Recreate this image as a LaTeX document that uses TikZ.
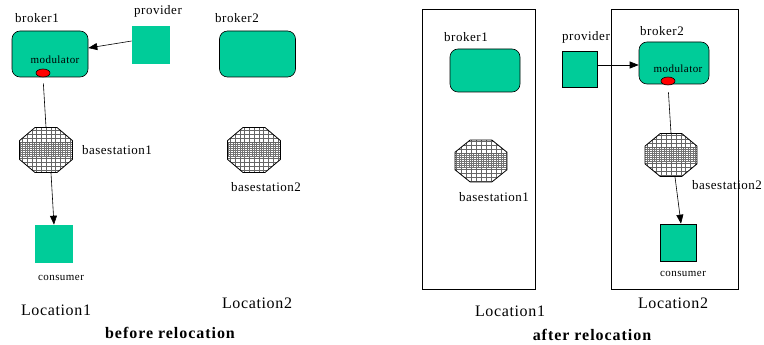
\documentclass[tikz,border=0pt]{standalone}
\usepackage{fontspec}
\setmainfont{Liberation Serif}
\newfontfamily\spaced[LetterSpace=4]{Liberation Serif}
\newfontfamily\wide[LetterSpace=6]{Liberation Serif}
\usepackage{tikz}
\usetikzlibrary{arrows, arrows.meta, positioning, shapes}
\definecolor{brokergreen}{RGB}{0,204,153}

\begin{document}
\begin{tikzpicture}[
    x=1pt, y=-1pt,
    line width=0.6pt,
    broker/.style={draw, fill=brokergreen, rounded corners=8pt,
        minimum width=76pt, minimum height=46pt, inner sep=0pt},
    party/.style={fill=brokergreen, minimum size=38pt, inner sep=0pt},
    modulator/.style={ellipse, draw, fill=red, minimum width=14pt,
        minimum height=8pt, inner sep=0pt},
    station/.style={regular polygon, regular polygon sides=8,
        draw, line width=0.8pt, inner sep=0pt,
        minimum size=48.7pt, xscale=1.18,
        path picture={
            \draw[line width=0.15pt, black!60] (path picture bounding box.south west)
                grid[step=4pt] (path picture bounding box.north east);
            \draw[line width=0.15pt, black!55] ([yshift=-7pt]path picture bounding box.west)
                grid[step=2pt] ([yshift=7pt]path picture bounding box.east);
        }},
    lbl/.style={font=\spaced\fontsize{13}{15}\selectfont, inner sep=0pt},
    small/.style={font=\spaced\fontsize{11}{13}\selectfont, inner sep=0pt},
    loc/.style={font=\spaced\fontsize{16}{18}\selectfont, inner sep=0pt},
    caption/.style={font=\wide\bfseries\fontsize{16}{18}\selectfont, inner sep=0pt},
    arr/.style={-{Triangle[length=9pt,width=7pt]}},
]
\useasboundingbox (0,0) rectangle (764,345);

\node[broker] (brk1) at (50,54) {};
\node[lbl] (brk1lbl) at (37,18) {broker1};
\node[small] (mod1txt) at (55,60) {modulator};
\node[modulator] (mod1) at (43,73) {};
\node[party] (prov1) at (151,45) {};
\node[lbl] (prov1lbl) at (158,11) {provider};
\node[broker] (brk2) at (257.5,54) {};
\node[lbl] (brk2lbl) at (237,18) {broker2};
\node[station] (bs1) at (46,150) {};
\node[lbl] (bs1lbl) at (117,150) {basestation1};
\node[station] (bs2) at (254,150) {};
\node[lbl] (bs2lbl) at (266,187) {basestation2};
\node[party] (cons1) at (54,244) {};
\node[small] (cons1lbl) at (61,278) {consumer};
\node[loc] (loc1a) at (56,310) {Location1};
\node[loc] (loc2a) at (257,303) {Location2};
\node[caption] (before) at (170,333) {before relocation};

\node[draw, minimum width=113pt, minimum height=280pt, inner sep=0pt] (box1) at (478.5,149) {};
\node[draw, minimum width=127pt, minimum height=280pt, inner sep=0pt] (box2) at (674.5,149) {};
\node[loc] (loc1b) at (510,311) {Location1};
\node[loc] (loc2b) at (673,303) {Location2};
\node[caption] (after) at (592,335) {after relocation};
\node[broker, minimum width=70pt, minimum height=43pt] (brk1b) at (485,70.5) {};
\node[lbl] (brk1blbl) at (466,37) {broker1};
\node[station, minimum size=45.5pt, xscale=1.24/1.18] (bs1b) at (481,161) {};
\node[lbl] (bs1blbl) at (494,197) {basestation1};
\node[party, draw, minimum width=35pt, minimum height=36pt] (prov2) at (579.5,69) {};
\node[lbl] (prov2lbl) at (586,37) {provider};
\node[broker, minimum width=70pt, minimum height=42pt] (brk2b) at (674,63) {};
\node[lbl] (brk2blbl) at (662,31) {broker2};
\node[small] (mod2txt) at (678,69) {modulator};
\node[modulator] (mod2) at (668,81) {};
\node[station, minimum size=46.5pt, xscale=1.21/1.18] (bs2b) at (671,155) {};
\node[lbl] (bs2blbl) at (727,185) {basestation2};
\node[party, draw, minimum width=36pt, minimum height=37pt] (cons2) at (678,242.5) {};
\node[small] (cons2lbl) at (683,274) {consumer};

\draw[arr] ([yshift=4pt]prov1.west) -- ([yshift=6pt]brk1.east);
\draw[shorten <=6pt] (mod1.south) -- (bs1.north);
\draw[arr] ([xshift=5pt]bs1.south) -- (cons1.north);
\draw[arr] ([yshift=4pt]prov2.east) -- ([yshift=-2pt]brk2b.west);
\draw[shorten <=7pt] (mod2.south) -- (bs2b.north);
\draw[arr] ([xshift=4pt]bs2b.south) -- ([xshift=3pt]cons2.north);
\end{tikzpicture}
\end{document}
